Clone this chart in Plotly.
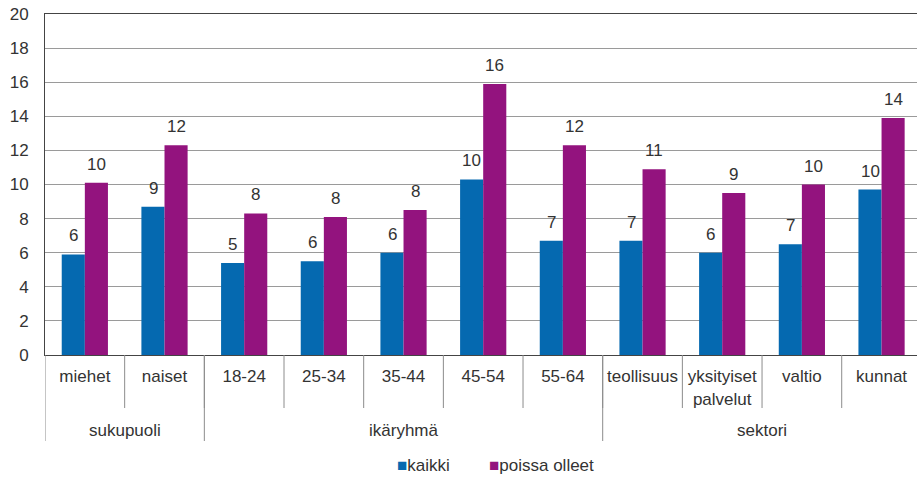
import plotly.graph_objects as go

# values
categories = ["miehet", "naiset", "18-24", "25-34", "35-44", "45-54", "55-64",
              "teollisuus", "yksityiset<br>palvelut", "valtio", "kunnat"]
kaikki = [5.9, 8.7, 5.4, 5.5, 6.0, 10.3, 6.7, 6.7, 6.0, 6.5, 9.7]
poissa_olleet = [10.1, 12.3, 8.3, 8.1, 8.5, 15.9, 12.3, 10.9, 9.5, 10.0, 13.9]
kaikki_labels = [6, 9, 5, 6, 6, 10, 7, 7, 6, 7, 10]
poissa_labels = [10, 12, 8, 8, 8, 16, 12, 11, 9, 10, 14]
group_names = ["sukupuoli", "ikäryhmä", "sektori"]
group_sizes = [2, 5, 4]
y_ticks = list(range(0, 21, 2))

BLUE = "#0569b0"
PURPLE = "#93137e"
TEXT = "#333333"
FONT = "Liberation Sans"
FONT_SIZE = 17

fig = go.Figure()
fig.add_trace(go.Bar(x=categories, y=kaikki, name="kaikki",
                     marker=dict(color=BLUE, line=dict(width=0))))
fig.add_trace(go.Bar(x=categories, y=poissa_olleet, name="poissa olleet",
                     marker=dict(color=PURPLE, line=dict(width=0))))

# value labels above the bars
for i in range(len(categories)):
    for vals, labels, shift in ((kaikki, kaikki_labels, -11.5),
                                (poissa_olleet, poissa_labels, 11.5)):
        fig.add_annotation(x=i, y=vals[i], text=str(labels[i]), xshift=shift,
                           yshift=7, yanchor="bottom", showarrow=False,
                           font=dict(size=FONT_SIZE, color=TEXT))

# divider lines under the x axis
for i in range(1, len(categories)):
    fig.add_shape(type="line", xref="x", yref="paper", ysizemode="pixel",
                  yanchor=0, x0=i - 0.5, x1=i - 0.5, y0=0, y1=-53,
                  line=dict(color="#8c8c8c", width=1))

start = 0
for name, size in zip(group_names, group_sizes):
    fig.add_shape(type="line", xref="x", yref="paper", ysizemode="pixel",
                  yanchor=0, x0=start - 0.5, x1=start - 0.5, y0=0, y1=-86,
                  line=dict(color="#8c8c8c", width=1))
    fig.add_annotation(x=start + (size - 1) / 2, y=0, xref="x", yref="paper",
                       text=name, yshift=-75, yanchor="middle", showarrow=False,
                       font=dict(size=FONT_SIZE, color=TEXT))
    start += size

# legend drawn as text with square glyphs, like the original
for trace, lx in zip(fig.data, (0.401, 0.507)):
    fig.add_annotation(
        x=lx, y=-0.3255, xref="paper", yref="paper",
        xanchor="left", yanchor="middle", showarrow=False,
        text=f"<span style='color:{trace.marker.color}'>■</span>{trace.name}",
        font=dict(size=FONT_SIZE, color=TEXT),
    )

fig.update_layout(
    width=917,
    height=479,
    margin=dict(l=45, r=0, t=14, b=124, autoexpand=False),
    plot_bgcolor="white",
    paper_bgcolor="white",
    font=dict(family=FONT, size=FONT_SIZE, color=TEXT),
    bargap=0.42,
    bargroupgap=0,
    showlegend=False,
)

fig.update_xaxes(
    type="category",
    range=[-0.5, 10.445],
    automargin=False,
    showline=True,
    linecolor="#444444",
    linewidth=1,
    mirror=True,
    showgrid=False,
    ticks="",
    ticklabelstandoff=6,
    tickfont=dict(size=FONT_SIZE, color=TEXT),
)

fig.update_yaxes(
    range=[0, 20],
    tickvals=y_ticks,
    automargin=False,
    showgrid=True,
    gridcolor="#9a9a9a",
    showline=True,
    linecolor="#444444",
    linewidth=1,
    zeroline=False,
    ticks="",
    ticklabelstandoff=12,
    ticklabeloverflow="allow",
    tickfont=dict(size=FONT_SIZE, color=TEXT),
)

# drop the default page margin so the figure fills the window exactly
fig.write_html("out.html", config={"displayModeBar": False},
               post_script="document.body.style.margin = '0';")
